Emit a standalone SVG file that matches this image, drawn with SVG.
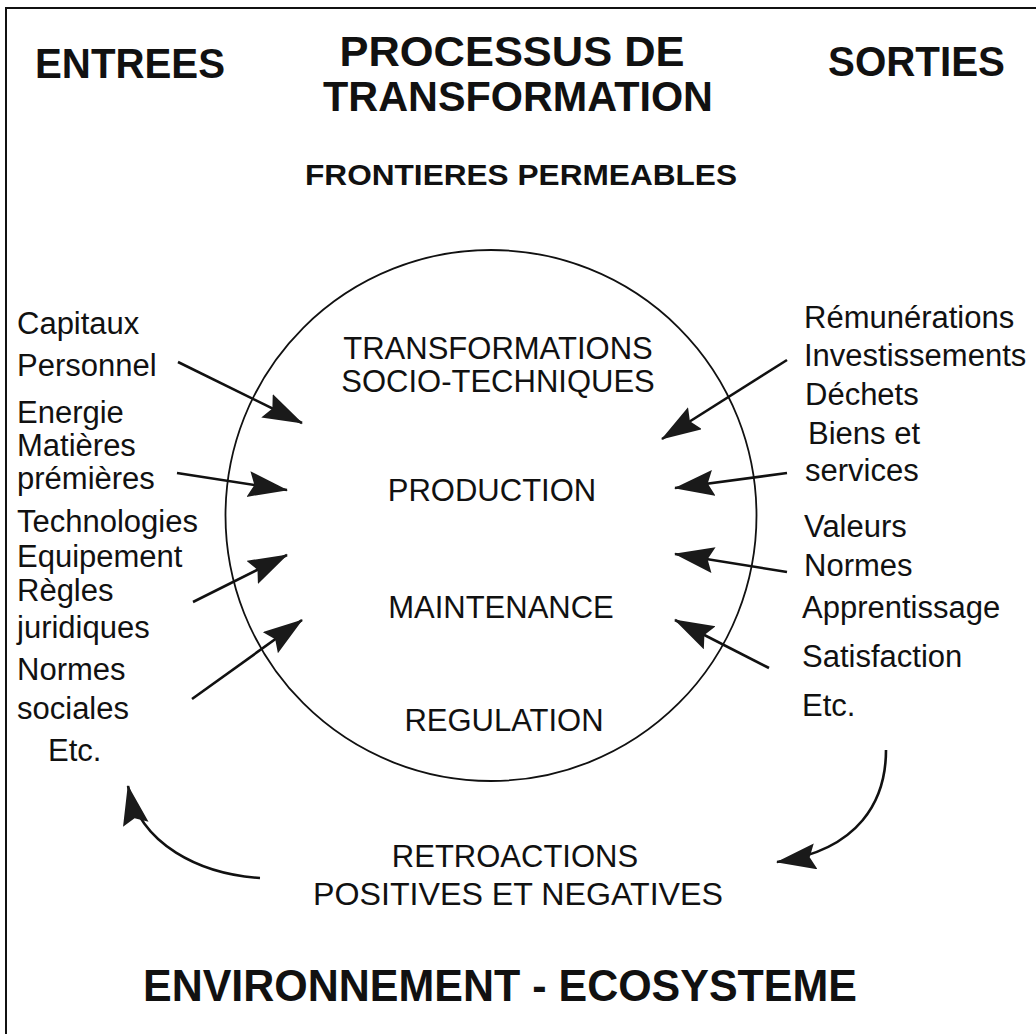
<svg xmlns="http://www.w3.org/2000/svg" width="1036" height="1034" viewBox="0 0 1036 1034">
<style>
text{font-family:"Liberation Sans",Arial,sans-serif;fill:#111}
.h{font-weight:bold;font-size:43px}
.f{font-weight:bold;font-size:29px}
.t{font-size:31px}
.big{font-weight:bold;font-size:44px}
.c{text-anchor:middle}
.ln{stroke:#111;stroke-width:2.6;fill:none}
</style>
<defs>
<marker id="ah" markerUnits="userSpaceOnUse" markerWidth="42" markerHeight="28" refX="39" refY="13" orient="auto" viewBox="0 0 42 28">
<path d="M0,0 L40,13 L0,26 L6,13 z" fill="#1a1a1a"/>
</marker>
</defs>
<rect width="1036" height="1034" fill="#fff"/>
<g id="frame" stroke="#111" stroke-width="2" fill="none">
<path d="M6,1034 V8 H1036"/>
</g>
<g id="titles">
<text class="h" x="35" y="78" textLength="190" lengthAdjust="spacingAndGlyphs">ENTREES</text>
<text class="h c" x="512" y="66" textLength="345" lengthAdjust="spacingAndGlyphs">PROCESSUS DE</text>
<text class="h c" x="518" y="111" textLength="390" lengthAdjust="spacingAndGlyphs">TRANSFORMATION</text>
<text class="h" x="828" y="76" textLength="177" lengthAdjust="spacingAndGlyphs">SORTIES</text>
<text class="f" x="305" y="185" textLength="432" lengthAdjust="spacingAndGlyphs">FRONTIERES PERMEABLES</text>
</g>
<g id="system">
<circle cx="491" cy="515.5" r="265.5" fill="none" stroke="#111" stroke-width="1.8"/>
<text class="t c" x="498" y="359">TRANSFORMATIONS</text>
<text class="t c" x="498" y="392">SOCIO-TECHNIQUES</text>
<text class="t c" x="492" y="501">PRODUCTION</text>
<text class="t c" x="501" y="618">MAINTENANCE</text>
<text class="t c" x="504" y="731">REGULATION</text>
</g>
<g id="inputs">
<text class="t" x="17" y="334">Capitaux</text>
<text class="t" x="17" y="376">Personnel</text>
<text class="t" x="17" y="423">Energie</text>
<text class="t" x="17" y="456">Matières</text>
<text class="t" x="17" y="489">prémières</text>
<text class="t" x="17" y="532">Technologies</text>
<text class="t" x="17" y="567">Equipement</text>
<text class="t" x="17" y="601">Règles</text>
<text class="t" x="17" y="638">juridiques</text>
<text class="t" x="17" y="680">Normes</text>
<text class="t" x="17" y="719">sociales</text>
<text class="t" x="48" y="761">Etc.</text>
</g>
<g id="outputs">
<text class="t" x="804" y="328">Rémunérations</text>
<text class="t" x="804" y="366">Investissements</text>
<text class="t" x="805" y="405">Déchets</text>
<text class="t" x="808" y="444">Biens et</text>
<text class="t" x="805" y="481">services</text>
<text class="t" x="804" y="537">Valeurs</text>
<text class="t" x="804" y="576">Normes</text>
<text class="t" x="802" y="618">Apprentissage</text>
<text class="t" x="802" y="667">Satisfaction</text>
<text class="t" x="802" y="716">Etc.</text>
</g>
<g id="feedback">
<text class="t c" x="515" y="867">RETROACTIONS</text>
<text class="t c" x="518" y="905" textLength="410" lengthAdjust="spacingAndGlyphs">POSITIVES ET NEGATIVES</text>
</g>
<g id="environment">
<text class="big c" x="500" y="1001" textLength="714" lengthAdjust="spacingAndGlyphs">ENVIRONNEMENT - ECOSYSTEME</text>
</g>
<g id="connectors" class="ln">
<line x1="178" y1="362" x2="302" y2="423" marker-end="url(#ah)"/>
<line x1="177" y1="473" x2="287" y2="490" marker-end="url(#ah)"/>
<line x1="193" y1="602" x2="287" y2="555" marker-end="url(#ah)"/>
<line x1="192" y1="699" x2="302" y2="620" marker-end="url(#ah)"/>
<line x1="787" y1="360" x2="662" y2="439" marker-end="url(#ah)"/>
<line x1="787" y1="473" x2="675" y2="488" marker-end="url(#ah)"/>
<line x1="787" y1="572" x2="675" y2="554" marker-end="url(#ah)"/>
<line x1="769" y1="668" x2="675" y2="620" marker-end="url(#ah)"/>
<path d="M260,878 C200,874 140,845 128,786" marker-end="url(#ah)"/>
<path d="M886,750 C886,800 860,850 777,862" marker-end="url(#ah)"/>
</g>
</svg>
